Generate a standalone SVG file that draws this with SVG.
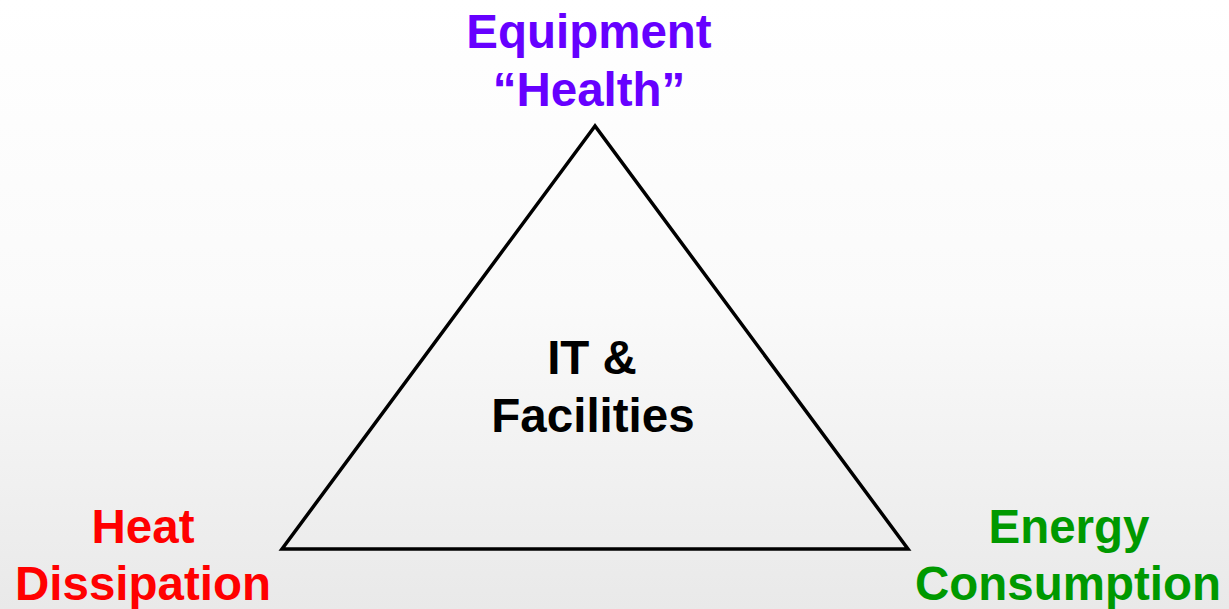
<svg xmlns="http://www.w3.org/2000/svg" width="1229" height="609" viewBox="0 0 1229 609">
  <defs>
    <linearGradient id="bg" x1="0" y1="0" x2="0" y2="1">
      <stop offset="0" stop-color="#ffffff"/>
      <stop offset="0.5" stop-color="#fafafa"/>
      <stop offset="1" stop-color="#e9e9e9"/>
    </linearGradient>
  </defs>
  <style>
    text { font-family: "Liberation Sans", Arial, sans-serif; font-weight: bold; font-size: 47.5px; text-anchor: middle; }
    .purple { fill: #6600ff; }
    .red { fill: #ff0000; }
    .green { fill: #009900; }
    .black { fill: #000000; }
    .edge { fill: none; stroke: #000000; stroke-width: 3.5; stroke-linejoin: miter; }
  </style>
  <rect x="0" y="0" width="1229" height="609" fill="url(#bg)"/>

  <!-- triangle edges -->
  <g id="connectors">
    <polygon class="edge" points="595,126 282,549 908,549"/>
  </g>

  <g id="center">
    <text class="black" x="592" y="374">IT &amp;</text>
    <text class="black" x="593" y="432">Facilities</text>
  </g>

  <g id="top">
    <text class="purple" x="589" y="48">Equipment</text>
    <text class="purple" x="589" y="106">“Health”</text>
  </g>

  <g id="left">
    <text class="red" x="143" y="543">Heat</text>
    <text class="red" x="143" y="600">Dissipation</text>
  </g>

  <g id="right">
    <text class="green" x="1069" y="543">Energy</text>
    <text class="green" x="1068" y="600">Consumption</text>
  </g>
</svg>
